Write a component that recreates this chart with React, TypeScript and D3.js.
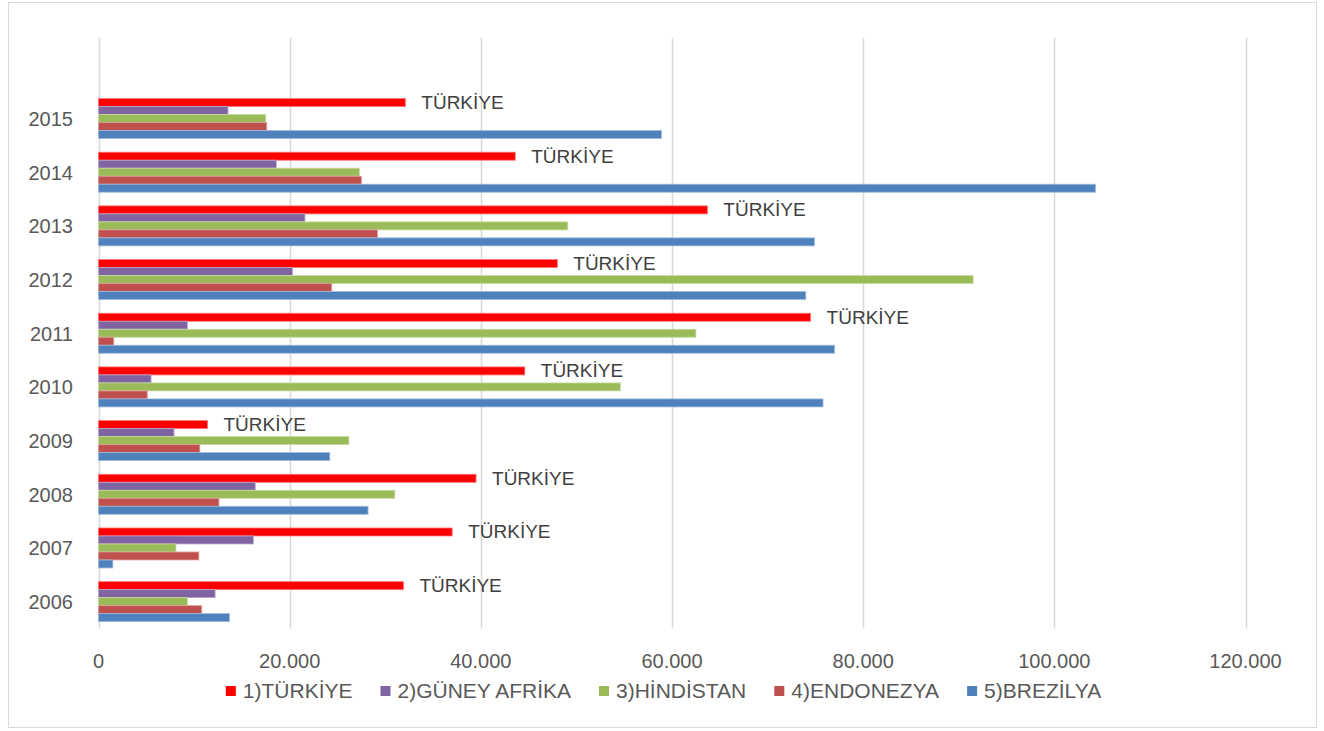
import React, { useEffect, useRef } from "react";
import * as d3 from "d3";

const years = ["2006", "2007", "2008", "2009", "2010", "2011", "2012", "2013", "2014", "2015"];
const seriesNames = ["1)TÜRKİYE", "2)GÜNEY AFRİKA", "3)HİNDİSTAN", "4)ENDONEZYA", "5)BREZİLYA"];
const seriesColors = ["#FF0000", "#8064A2", "#9BBB59", "#C0504D", "#4F81BD"];
const turkiye = [31900, 37000, 39500, 11400, 44600, 74500, 48000, 63700, 43600, 32100];
const guneyAfrika = [12200, 16200, 16400, 7900, 5500, 9300, 20300, 21600, 18600, 13550];
const hindistan = [9300, 8100, 31000, 26200, 54600, 62500, 91500, 49100, 27300, 17500];
const endonezya = [10800, 10500, 12600, 10600, 5100, 1600, 24400, 29200, 27500, 17600];
const brezilya = [13700, 1500, 28200, 24200, 75800, 77000, 74000, 74900, 104300, 58900];
const xTicks = [0, 20000, 40000, 60000, 80000, 100000, 120000];
const labelText = "TÜRKİYE";

const seriesValues = [turkiye, guneyAfrika, hindistan, endonezya, brezilya];

export default function App() {
  const ref = useRef<SVGSVGElement | null>(null);

  useEffect(() => {
    const W = 1324, H = 731;
    const svg = d3.select(ref.current);
    svg.selectAll("*").remove();
    const font = "'Liberation Sans', Arial, sans-serif";

    svg.append("rect").attr("x", 0).attr("y", 0).attr("width", W).attr("height", H).attr("fill", "#fff");
    svg.append("rect").attr("x", 8.5).attr("y", 2.5).attr("width", 1308).attr("height", 725)
      .attr("fill", "#fff").attr("stroke", "#d9d9d9").attr("stroke-width", 1);

    const plotLeft = 98.5, plotRight = 1245.5, plotTop = 38, plotBottom = 628.5;
    const step = (plotBottom - plotTop) / 11;

    const x = d3.scaleLinear().domain([0, 120000]).range([plotLeft, plotRight]);
    const y0 = d3.scaleBand<string>()
      .domain([...years])
      .range([plotBottom, plotBottom - step * years.length])
      .paddingInner(0.255)
      .paddingOuter(0.1275);
    const y1 = d3.scaleBand<number>()
      .domain(d3.range(seriesNames.length))
      .range([0, y0.bandwidth()]);

    // gridlines
    svg.append("g").selectAll("line").data(xTicks).join("line")
      .attr("x1", d => Math.round(x(d)) + 0.5).attr("x2", d => Math.round(x(d)) + 0.5)
      .attr("y1", plotTop).attr("y2", plotBottom)
      .attr("stroke", "#d9d9d9").attr("stroke-width", 1.6);

    // bars
    const fmt = (v: number) => d3.format(",")(v).replace(/,/g, ".");
    const gBars = svg.append("g");
    years.forEach((yr, i) => {
      const g = gBars.append("g").attr("transform", `translate(0,${y0(yr)})`);
      seriesValues.forEach((vals, s) => {
        g.append("rect")
          .attr("x", x(0))
          .attr("y", y1(s)!)
          .attr("width", x(vals[i]) - x(0))
          .attr("height", y1.bandwidth())
          .attr("fill", seriesColors[s])
          .attr("stroke", d3.interpolateRgb(seriesColors[s], "#ffffff")(0.45))
          .attr("stroke-width", 0.8);
      });
      g.append("text")
        .attr("x", x(turkiye[i]) + 16)
        .attr("y", y1(0)! + y1.bandwidth() / 2 + 6.5)
        .attr("font-family", font).attr("font-size", 19).attr("fill", "#404040")
        .text(labelText);
    });

    // y axis labels
    svg.append("g").selectAll("text").data(years).join("text")
      .attr("x", 73)
      .attr("y", d => y0(d)! + y0.bandwidth() / 2 + 7.5)
      .attr("text-anchor", "end")
      .attr("font-family", font).attr("font-size", 20).attr("fill", "#595959")
      .text(d => d);

    // x axis labels
    svg.append("g").selectAll("text").data(xTicks).join("text")
      .attr("x", d => x(d))
      .attr("y", 668)
      .attr("text-anchor", "middle")
      .attr("font-family", font).attr("font-size", 20).attr("fill", "#595959")
      .text(d => fmt(d));

    // legend
    const legend = svg.append("g");
    const items = legend.selectAll("g").data(seriesNames).join("g");
    items.append("rect").attr("width", 10).attr("height", 10).attr("y", 686)
      .attr("fill", (_d, i) => seriesColors[i]);
    items.append("text").attr("x", 17).attr("y", 697.5)
      .attr("font-family", font).attr("font-size", 21).attr("fill", "#595959")
      .text(d => d);
    const widths: number[] = [];
    items.each(function () {
      const t = d3.select(this).select("text").node() as SVGTextElement;
      widths.push(17 + t.getComputedTextLength());
    });
    const gap = 28;
    const total = d3.sum(widths) + gap * (widths.length - 1);
    let cx = 663.5 - total / 2;
    items.each(function (_d, i) {
      d3.select(this).attr("transform", `translate(${cx},0)`);
      cx += widths[i] + gap;
    });
  }, []);

  return (
    <svg ref={ref} width={1324} height={731}
      style={{ position: "absolute", left: 0, top: 0, display: "block" }} />
  );
}
